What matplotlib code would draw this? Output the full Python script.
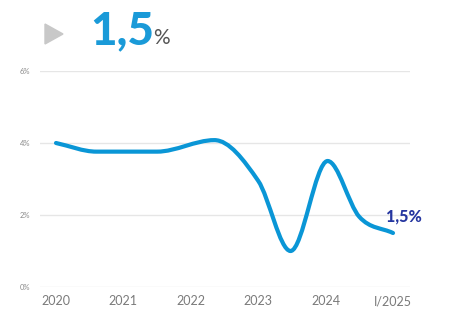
import numpy as np
import matplotlib
matplotlib.use("Agg")
import matplotlib.pyplot as plt
from matplotlib.path import Path
from matplotlib.patches import PathPatch, Polygon

# serie annua (punti principali della curva)
anni = [2020.0, 2020.6, 2021.5, 2022.35, 2023.0, 2023.48, 2024.03, 2024.5, 2025.0]
valori = [4.0, 3.76, 3.76, 4.08, 2.95, 1.0, 3.5, 1.95, 1.5]

tick_anni = [2020, 2021, 2022, 2023, 2024, 2025]
tick_etichette = ["2020", "2021", "2022", "2023", "2024", "I/2025"]
tick_y = [0, 2, 4, 6]
ultimo = valori[-1]

BLU = "#0a96d6"
BLU_SCURO = "#2536a0"
GRIGIO = "#7a7a7a"


def spline_path(x, y):
    """Curva di Bezier morbida (tangenti di Hermite) attraverso i punti."""
    x = np.asarray(x, float)
    y = np.asarray(y, float)
    n = len(x)
    m = np.zeros(n)
    for i in range(n):
        if i == 0:
            m[i] = (y[1] - y[0]) / (x[1] - x[0])
        elif i == n - 1:
            m[i] = (y[-1] - y[-2]) / (x[-1] - x[-2])
        elif (y[i] - y[i - 1]) * (y[i + 1] - y[i]) <= 0:
            m[i] = 0.0  # massimi/minimi locali piatti
        else:
            m[i] = (y[i + 1] - y[i - 1]) / (x[i + 1] - x[i - 1])
    verts = [(x[0], y[0])]
    codes = [Path.MOVETO]
    for i in range(n - 1):
        dx = x[i + 1] - x[i]
        verts += [(x[i] + dx / 3, y[i] + m[i] * dx / 3),
                  (x[i + 1] - dx / 3, y[i + 1] - m[i + 1] * dx / 3),
                  (x[i + 1], y[i + 1])]
        codes += [Path.CURVE4] * 3
    return Path(verts, codes)


plt.rcParams['font.family'] = ['Lato', 'DejaVu Sans']

fig = plt.figure(figsize=(4.5, 3.26), dpi=100)
ax = fig.add_axes([40 / 450, 39 / 326, 370 / 450, 216 / 326])
ax.set_xlim(2020 - 16 / 67.4, 2025 + 17 / 67.4)
ax.set_ylim(0, 6)

for v in tick_y:
    ax.axhline(v, color="#e6e6e6", lw=1, zorder=0)

ax.add_patch(PathPatch(spline_path(anni, valori), fill=False, edgecolor=BLU,
                       lw=3, capstyle="round", joinstyle="round", clip_on=False))

ax.set_xticks(tick_anni)
ax.set_xticklabels(tick_etichette, fontsize=9, color=GRIGIO)
ax.set_yticks(tick_y)
ax.set_yticklabels([f"{v}%" for v in tick_y], fontsize=5.5, color="#8a8a8a")
ax.tick_params(length=0, pad=6)
ax.tick_params(axis="y", pad=7)
for s in ax.spines.values():
    s.set_visible(False)

ax.annotate(f"{ultimo:.1f}%".replace(".", ","), (anni[-1], ultimo),
            xytext=(-5, 8), textcoords="offset points", fontsize=11.5,
            fontweight="black", color=BLU_SCURO, annotation_clip=False)

# intestazione con il valore grande
fig.patches.append(Polygon([[45 / 450, 1 - 24 / 326], [45 / 450, 1 - 44 / 326], [63 / 450, 1 - 34 / 326]],
                           closed=True, transform=fig.transFigure, color="#c8c8c8"))
fig.text(90 / 450, 1 - 44 / 326, f"{ultimo:.1f}".replace(".", ","), fontsize=33,
         fontweight="black", color="#1a9ad8", ha="left", va="baseline")
fig.text(153 / 450, 1 - 44 / 326, "%", fontsize=15, color="#555555", ha="left", va="baseline")

fig.savefig("out.png", dpi=100, facecolor="white")
